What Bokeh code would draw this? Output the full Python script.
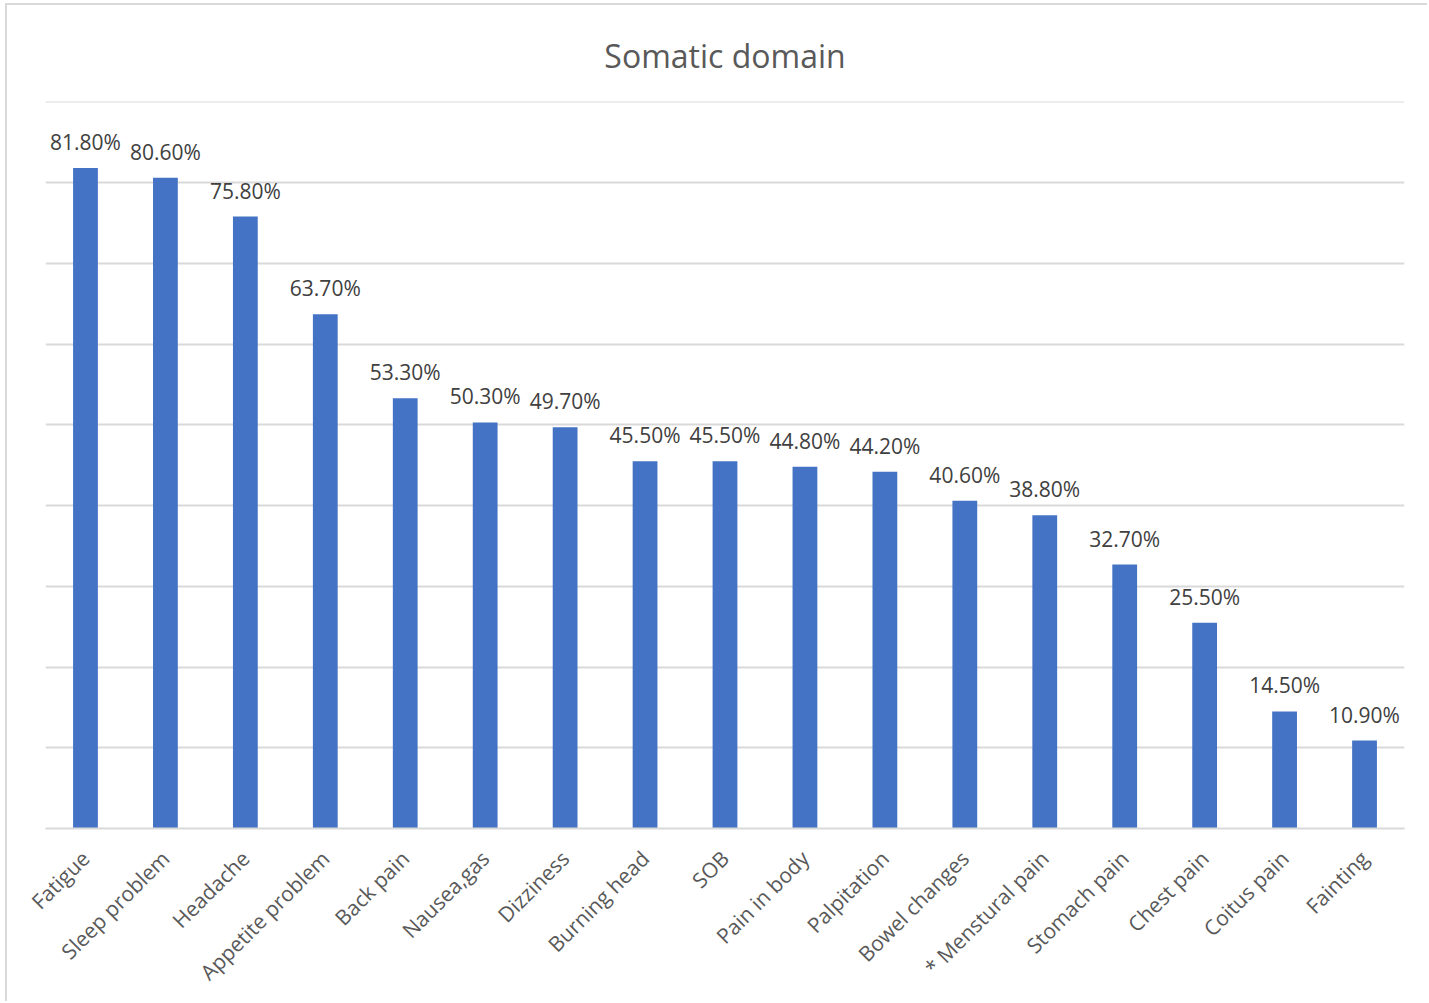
import math
from bokeh.plotting import figure
from bokeh.models import ColumnDataSource, Range1d, FactorRange, SingleIntervalTicker
from bokeh.core.properties import value
from bokeh.embed import file_html
from bokeh.resources import INLINE

# Somatic complaints and the share of respondents reporting each
symptoms = [
    "Fatigue", "Sleep problem", "Headache", "Appetite problem", "Back pain",
    "Nausea,gas", "Dizziness", "Burning head", "SOB", "Pain in body",
    "Palpitation", "Bowel changes", "* Menstural pain", "Stomach pain",
    "Chest pain", "Coitus pain", "Fainting",
]
percent = [81.8, 80.6, 75.8, 63.7, 53.3, 50.3, 49.7, 45.5, 45.5, 44.8,
           44.2, 40.6, 38.8, 32.7, 25.5, 14.5, 10.9]
labels = [f"{v:.2f}%" for v in percent]

TEXT = "#595959"
LABEL = "#404040"
GRID = "#d9d9d9"
BAR = "#4472C4"
FONT = "Open Sans"

src = ColumnDataSource(dict(x=symptoms, y=percent, label=labels))

p = figure(
    width=1422, height=998,
    x_range=FactorRange(*symptoms, range_padding=0),
    y_range=Range1d(0, 90.05),
    output_backend="svg", toolbar_location=None,
    min_border_left=38, min_border_right=25,
    min_border_top=96, min_border_bottom=175,
)
p.styles = {
    "margin-left": "5px", "margin-top": "3px",
    "border-left": "2px solid #d9d9d9", "border-top": "2px solid #d9d9d9",
}

p.title.text = "Somatic domain"
p.title.align = "center"
p.title.text_font = FONT
p.title.text_font_size = "32px"
p.title.text_font_style = "normal"
p.title.text_color = TEXT
p.title.standoff = 50

p.vbar(x="x", top="y", width=0.31, source=src, color=BAR, line_color=None)

p.text(x="x", y="y", text="label", source=src,
       text_align="center", text_baseline="bottom", y_offset=-12,
       text_font=value(FONT), text_font_size="21px", text_color=LABEL)

# Value axis: gridlines only, every 10 percentage points
p.yaxis.visible = False
p.yaxis.ticker = SingleIntervalTicker(interval=10)
p.ygrid.ticker = SingleIntervalTicker(interval=10)
p.ygrid.grid_line_color = GRID
p.ygrid.grid_line_width = 2
p.xgrid.visible = False

p.xaxis.axis_line_color = GRID
p.xaxis.axis_line_width = 2
p.xaxis.major_tick_line_color = None
p.xaxis.minor_tick_line_color = None
p.xaxis.major_label_orientation = math.pi / 4
p.xaxis.major_label_text_font = FONT
p.xaxis.major_label_text_font_size = "21px"
p.xaxis.major_label_text_color = TEXT
p.xaxis.major_label_standoff = 20

p.outline_line_color = None
p.background_fill_color = "white"
p.border_fill_color = "white"

open("out.html", "w").write(file_html(p, INLINE))
